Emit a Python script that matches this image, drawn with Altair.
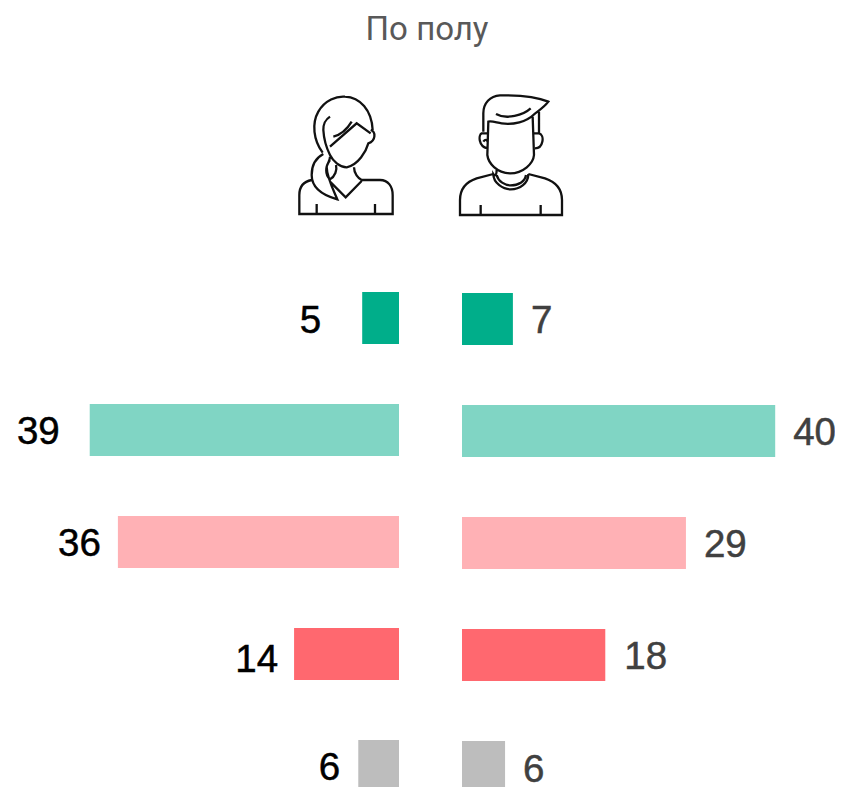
import altair as alt
import pandas as pd

title = "По полу"
rows = ["A", "B", "C", "D", "E"]
colors = ["#00AE8A", "#80D5C4", "#FFB1B5", "#FF686F", "#BDBDBD"]
women_labels = [5, 39, 36, 14, 6]
men_labels = [7, 40, 29, 18, 6]
women_values = [4.7, 39.5, 35.9, 13.4, 5.2]
men_values = [6.5, 40.0, 28.6, 18.3, 5.5]

PX = 7.83          # pixels per unit
BASE = 31.5 / PX   # half the gap between the two sides
women_gap = [41, 30, 17, 16, 18]
men_gap = [18, 18, 18, 19, 18]
women_dy = [3, 2, 2, 6, 2]
men_dy = [3, 3, 3, 3, 4]
W, H = 827, 779

women = pd.DataFrame({"row": rows, "v": women_values, "label": women_labels, "gap": women_gap, "dy": women_dy})
women["x"] = -BASE
women["x2"] = -BASE - women.v
women["tx"] = women.x2 - women.gap / PX
men = pd.DataFrame({"row": rows, "v": men_values, "label": men_labels, "gap": men_gap, "dy": men_dy})
men["x"] = BASE
men["x2"] = BASE + men.v
men["tx"] = men.x2 + men.gap / PX

x_scale = alt.Scale(domain=[-422.5 / PX, (W - 422.5) / PX], nice=False, zero=False)
y_scale = alt.Scale(domain=rows, range=[284, 784], paddingInner=0.536, paddingOuter=0)
c_scale = alt.Scale(domain=rows, range=colors)
X = alt.X("x:Q", scale=x_scale, axis=None)
Y = alt.Y("row:N", scale=y_scale, axis=None, sort=rows)
C = alt.Color("row:N", scale=c_scale, legend=None)


def bars(df, off):
    return alt.Chart(df).mark_bar(clip=True, yOffset=off, cornerRadius=0).encode(
        x=X, x2="x2:Q", y=Y, color=C)


def labels(df, align, color):
    return alt.layer(*[
        alt.Chart(df[df.dy == d]).mark_text(
            align=align, baseline="middle", font="Liberation Sans", fontSize=38.5,
            color=color, stroke=color, strokeWidth=0.5, dy=d
        ).encode(x=alt.X("tx:Q", scale=x_scale, axis=None), y=Y, text="label:N")
        for d in sorted(set(df.dy))
    ])


WOMAN = (
    "M128 218C100 180 95 130 115 95C135 60 170 48 195 50C240 52 275 90 278 150"
    "M272 150C288 155 288 182 265 190C258 215 235 255 200 262C180 262 160 245 150 225C140 205 132 185 130 150"
    "M130 150C130 130 135 120 150 110M150 200L230 130L272 160M160 170C180 165 200 150 215 125"
    "M130 222C105 235 95 260 95 285C95 320 125 345 172 358C160 330 140 290 140 260C145 245 150 240 150 230"
    "M150 240C135 260 135 285 150 298C165 290 172 270 168 255"
    "M222 262C222 280 235 295 245 300L300 300C325 300 338 320 338 345L338 402L58 402L58 345C58 320 70 305 95 300"
    "M150 305L197 352L245 303M110 372L110 402M285 372L285 402"
)
MAN = (
    "M610 155L610 100C610 70 630 48 660 46C710 45 770 50 805 65C790 85 770 95 760 105"
    "C740 125 700 135 665 130C650 128 635 122 625 125L622 225C625 250 650 278 690 280C730 280 760 250 762 225L758 110"
    "M777 95L777 160M622 160L605 160C595 165 595 200 622 205M610 185C615 178 622 178 622 185"
    "M777 160L762 160M765 205C790 205 795 165 777 160M648 102C680 120 730 105 752 85"
    "M650 270C650 285 645 290 640 282C640 310 670 328 692 328C720 328 745 310 745 282"
    "M650 285C655 305 675 316 692 316C715 316 735 305 738 285"
    "M640 282L590 295C560 305 540 325 540 360L540 405L846 405L846 360C846 325 825 305 795 295L745 282"
    "M602 375L602 405M782 375L782 405"
)


def icon(path):
    return alt.Chart(pd.DataFrame({"i": [0]})).mark_point(
        shape=path, size=4 / 9, filled=False, stroke="#111111", strokeWidth=2.3, opacity=1
    ).encode(x=alt.value(272), y=alt.value(72))


head = alt.Chart(pd.DataFrame({"t": [title]})).mark_text(
    font="Roboto", fontSize=33, color="#595959", align="center", baseline="middle"
).encode(x=alt.value(419), y=alt.value(22), text="t:N")

chart = alt.layer(
    head, icon(WOMAN), icon(MAN),
    bars(women, 0), bars(men, 1),
    labels(women, "right", "#000000"),
    labels(men, "left", "#404040"),
).properties(width=W, height=H, padding=0, autosize=alt.AutoSizeParams(type="none")
).configure_view(stroke=None)

chart.save("out.html", embed_options={"renderer": "svg", "actions": False})
